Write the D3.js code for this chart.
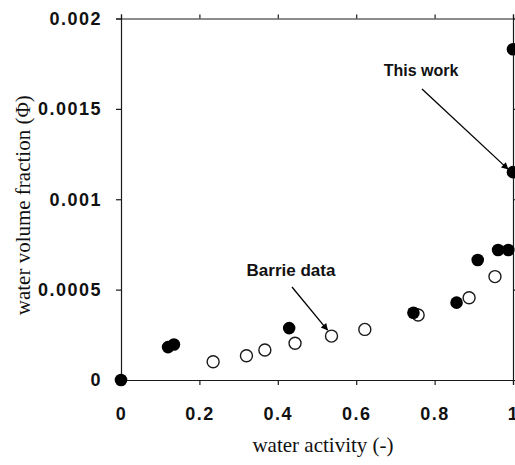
<!DOCTYPE html>
<html>
<head>
<meta charset="utf-8">
<script src="https://cdn.jsdelivr.net/npm/d3@7"></script>
<style>
  html, body { margin: 0; padding: 0; background: #fff; }
  svg { display: block; }
  .tick text { font-family: "Liberation Sans", Arial, sans-serif; font-weight: bold; font-size: 18px; letter-spacing: 1.5px; fill: #111; }
  .title { font-family: "Liberation Serif", "Times New Roman", serif; font-size: 21px; fill: #111; }
  .note { font-family: "Liberation Sans", Arial, sans-serif; font-weight: bold; font-size: 16px; fill: #111; }
</style>
</head>
<body>
<svg id="chart" width="515" height="465"></svg>
<script>
// Water uptake: water volume fraction versus water activity
const thisWorkActivity = [0, 0.12, 0.135, 0.429, 0.746, 0.856, 0.91, 0.962, 0.988, 1.0, 1.0];
const thisWorkFraction = [0, 0.000182, 0.000196, 0.000287, 0.000372, 0.000428, 0.000664, 0.000719, 0.000719, 0.00115, 0.00183];

const barrieActivity = [0.235, 0.32, 0.367, 0.444, 0.537, 0.622, 0.758, 0.888, 0.954];
const barrieFraction = [0.000101, 0.000134, 0.000166, 0.000203, 0.000243, 0.00028, 0.00036, 0.000455, 0.000572];

const xTicks = [0, 0.2, 0.4, 0.6, 0.8, 1];
const xTickLabels = ["0", "0.2", "0.4", "0.6", "0.8", "1"];
const yTicks = [0, 0.0005, 0.001, 0.0015, 0.002];
const yTickLabels = ["0", "0.0005", "0.001", "0.0015", "0.002"];

const svg = d3.select("#chart");
const plotLeft = 121, plotRight = 513, plotTop = 18.5, plotBottom = 380;

const x = d3.scaleLinear().domain([0, 1]).range([plotLeft, plotRight]);
const y = d3.scaleLinear().domain([0, 0.002]).range([plotBottom, plotTop]);

const ink = "#1a1a1a";

// frame axes
const xAxisBottom = d3.axisBottom(x).tickValues(xTicks)
  .tickFormat((d, i) => xTickLabels[i]).tickSize(5).tickPadding(22);
const xAxisTop = d3.axisTop(x).tickValues(xTicks).tickFormat("").tickSize(4);
const yAxisLeft = d3.axisLeft(y).tickValues(yTicks)
  .tickFormat((d, i) => yTickLabels[i]).tickSize(5).tickPadding(14);
const yAxisRight = d3.axisRight(y).tickValues(yTicks).tickFormat("").tickSize(4);

function styleAxis(g) {
  g.select(".domain").attr("stroke", ink).attr("stroke-width", 1.2);
  g.selectAll(".tick line").attr("stroke", ink).attr("stroke-width", 1.2);
}

svg.append("g").attr("transform", `translate(0,${plotBottom})`).call(xAxisBottom).call(styleAxis);
svg.append("g").attr("transform", `translate(0,${plotTop})`).call(xAxisTop).call(styleAxis);
svg.append("g").attr("transform", `translate(${plotLeft},0)`).call(yAxisLeft).call(styleAxis);
svg.append("g").attr("transform", `translate(${plotRight},0)`).call(yAxisRight).call(styleAxis);

svg.selectAll(".tick text").attr("fill", "#111");

// axis titles
svg.append("text").attr("class", "title")
  .attr("x", (plotLeft + plotRight) / 2 + 6).attr("y", 452)
  .attr("text-anchor", "middle")
  .text("water activity (-)");

svg.append("text").attr("class", "title")
  .attr("transform", `translate(30,${(plotTop + plotBottom) / 2 + 6}) rotate(-90)`)
  .attr("text-anchor", "middle")
  .text("water volume fraction (\u03A6)");

// Barrie data: open circles
const barrie = barrieActivity.map((a, i) => ({ a, f: barrieFraction[i] }));
svg.append("g").selectAll("circle").data(barrie).join("circle")
  .attr("cx", d => x(d.a)).attr("cy", d => y(d.f)).attr("r", 6)
  .attr("fill", "#fff").attr("stroke", ink).attr("stroke-width", 1.4);

// This work: filled circles
const thisWork = thisWorkActivity.map((a, i) => ({ a, f: thisWorkFraction[i] }));
svg.append("g").selectAll("circle").data(thisWork).join("circle")
  .attr("cx", d => x(d.a)).attr("cy", d => y(d.f)).attr("r", 6.3)
  .attr("fill", "#000");

// arrow marker
svg.append("defs").append("marker")
  .attr("id", "head").attr("viewBox", "0 0 10 10")
  .attr("refX", 9).attr("refY", 5)
  .attr("markerWidth", 9).attr("markerHeight", 7)
  .attr("markerUnits", "userSpaceOnUse")
  .attr("orient", "auto")
  .append("path").attr("d", "M0,0 L10,5 L0,10 z").attr("fill", "#000");

// annotations
svg.append("text").attr("class", "note").attr("x", 421).attr("y", 76)
  .attr("text-anchor", "middle").text("This work");
svg.append("line")
  .attr("x1", 422).attr("y1", 89).attr("x2", x(1) - 5).attr("y2", y(0.00115) - 3)
  .attr("stroke", "#000").attr("stroke-width", 1.3).attr("marker-end", "url(#head)");

svg.append("text").attr("class", "note").attr("x", 291).attr("y", 276)
  .attr("text-anchor", "middle").style("font-size", "17px").text("Barrie data");
svg.append("line")
  .attr("x1", 292).attr("y1", 287).attr("x2", x(0.537) - 4).attr("y2", y(0.000243) - 6)
  .attr("stroke", "#000").attr("stroke-width", 1.3).attr("marker-end", "url(#head)");
</script>
</body>
</html>
